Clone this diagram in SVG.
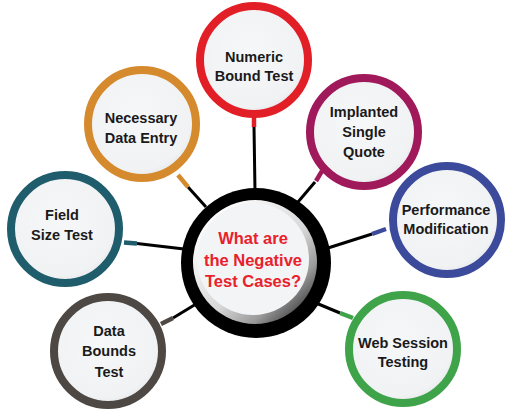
<svg xmlns="http://www.w3.org/2000/svg" width="512" height="420" viewBox="0 0 512 420">
<style>
.ring{fill:url(#fillG);stroke-width:8}
.lbl{font-family:"Liberation Sans",Arial,sans-serif;font-weight:bold;font-size:14.5px;fill:#1a1a1a;text-anchor:middle}
.ctr{font-family:"Liberation Sans",Arial,sans-serif;font-weight:bold;font-size:16.5px;fill:#e8212b;text-anchor:middle}
.blk{stroke:#000;stroke-width:3;fill:none}
.stub{stroke-width:4.5;fill:none}
</style>
<defs>
<radialGradient id="fillG" cx="0.45" cy="0.42" r="0.6">
<stop offset="0" stop-color="#f6f7f9"/>
<stop offset="0.85" stop-color="#f1f2f4"/>
<stop offset="1" stop-color="#e4e5e8"/>
</radialGradient>
<linearGradient id="bevel" x1="0.15" y1="0.1" x2="0.9" y2="0.9">
<stop offset="0" stop-color="#ffffff"/>
<stop offset="0.55" stop-color="#d8d8d8"/>
<stop offset="0.8" stop-color="#9a9a9a"/>
<stop offset="1" stop-color="#404040"/>
</linearGradient>
</defs>
<rect width="512" height="420" fill="#ffffff"/>
<g id="connectors">
<line class="blk" x1="254" y1="126" x2="255" y2="192"/>
<line class="stub" stroke="#e21f26" x1="254" y1="116" x2="254" y2="127"/>
<line class="blk" x1="188" y1="187" x2="206" y2="207"/>
<line class="stub" stroke="#d68a2e" x1="178" y1="175" x2="188" y2="187"/>
<line class="blk" x1="315" y1="182" x2="298" y2="202"/>
<line class="stub" stroke="#a0195b" x1="322" y1="171" x2="316" y2="181"/>
<line class="blk" x1="137" y1="243.5" x2="184" y2="249"/>
<line class="stub" stroke="#1f5c6c" x1="124" y1="242.5" x2="137" y2="243.5"/>
<line class="blk" x1="372" y1="234" x2="328" y2="248"/>
<line class="stub" stroke="#3b4a9b" x1="386" y1="229" x2="372" y2="234"/>
<line class="blk" x1="173" y1="318" x2="196" y2="304"/>
<line class="stub" stroke="#4d4843" x1="161" y1="324" x2="173" y2="318"/>
<line class="blk" x1="316" y1="303" x2="340" y2="313"/>
<line class="stub" stroke="#3fa34a" x1="340" y1="313" x2="353" y2="318"/>
</g>
<g id="center">
<circle cx="256" cy="263" r="75" fill="#000"/>
<circle cx="255" cy="262" r="62" fill="url(#bevel)"/>
<circle cx="253" cy="259" r="56" fill="#f3f4f6"/>
<text class="ctr" x="253" y="244">What are</text>
<text class="ctr" x="253" y="265.5">the Negative</text>
<text class="ctr" x="253" y="287">Test Cases?</text>
</g>
<g id="numeric">
<circle class="ring" stroke="#e21f26" cx="254" cy="60" r="54"/>
<text class="lbl" x="254" y="62">Numeric</text>
<text class="lbl" x="254" y="81">Bound Test</text>
</g>
<g id="necessary">
<circle class="ring" stroke="#d68a2e" cx="142" cy="124" r="54"/>
<text class="lbl" x="141" y="123">Necessary</text>
<text class="lbl" x="141" y="143">Data Entry</text>
</g>
<g id="implanted">
<circle class="ring" stroke="#a0195b" cx="364" cy="132" r="54"/>
<text class="lbl" x="364" y="117">Implanted</text>
<text class="lbl" x="364" y="137">Single</text>
<text class="lbl" x="364" y="157">Quote</text>
</g>
<g id="field">
<circle class="ring" stroke="#1f5c6c" cx="65" cy="229" r="54"/>
<text class="lbl" x="62" y="220">Field</text>
<text class="lbl" x="62" y="240">Size Test</text>
</g>
<g id="performance">
<circle class="ring" stroke="#3b4a9b" cx="447" cy="220" r="54"/>
<text class="lbl" x="446" y="215">Performance</text>
<text class="lbl" x="446" y="234">Modification</text>
</g>
<g id="databounds">
<circle class="ring" stroke="#4d4843" cx="108" cy="351" r="54"/>
<text class="lbl" x="109" y="336">Data</text>
<text class="lbl" x="109" y="356">Bounds</text>
<text class="lbl" x="109" y="377">Test</text>
</g>
<g id="websession">
<circle class="ring" stroke="#3fa34a" cx="403" cy="349" r="54"/>
<text class="lbl" x="403" y="348">Web Session</text>
<text class="lbl" x="403" y="367">Testing</text>
</g>
</svg>
